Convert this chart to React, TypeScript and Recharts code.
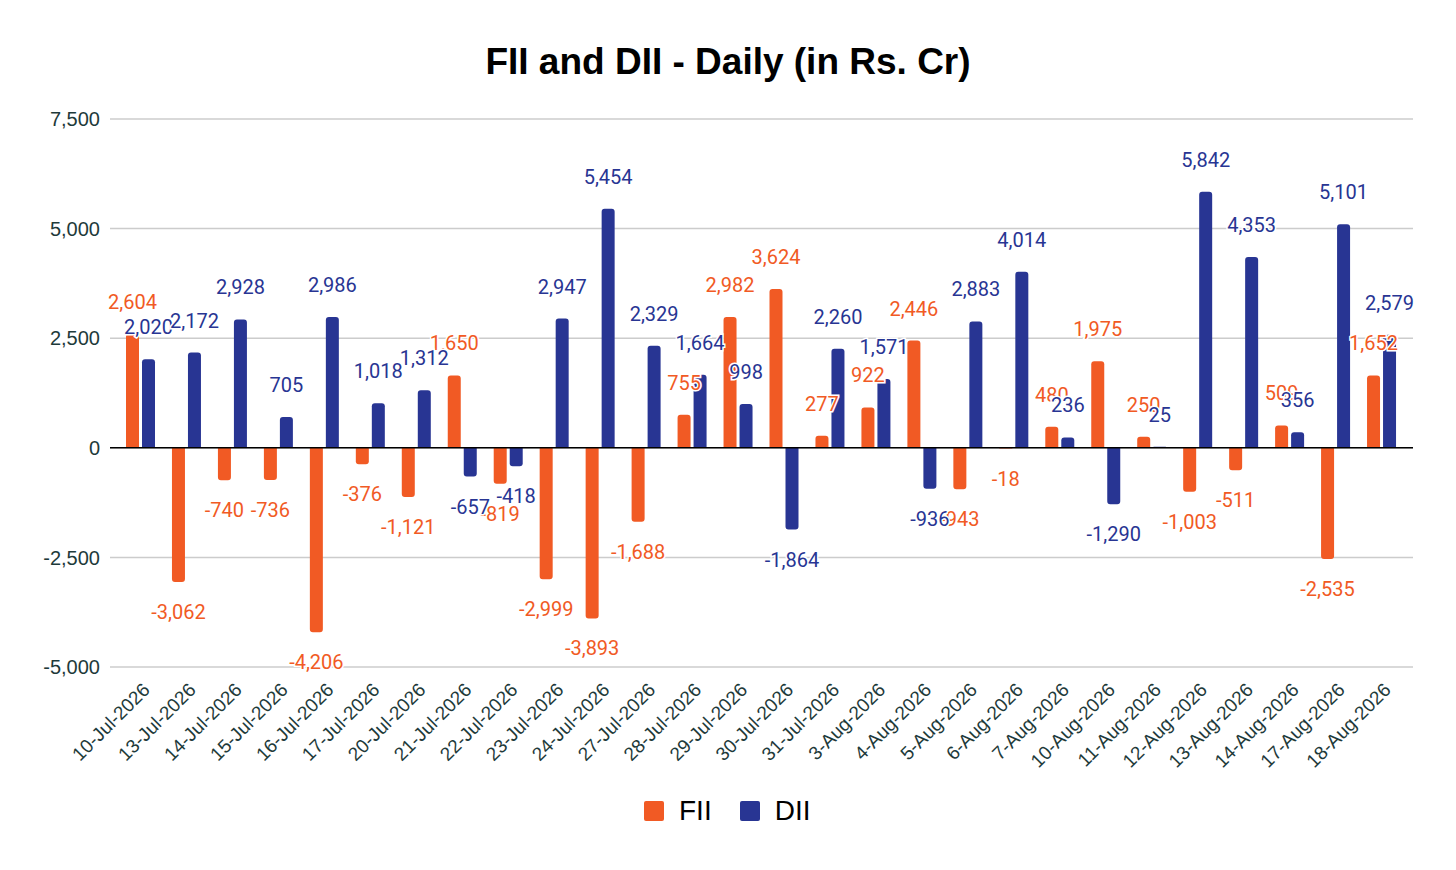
import React from "react";
import {
  BarChart,
  Bar,
  XAxis,
  YAxis,
  CartesianGrid,
  ReferenceLine,
  LabelList,
} from "recharts";

const categories = [
  "10-Jul-2026", "13-Jul-2026", "14-Jul-2026", "15-Jul-2026", "16-Jul-2026",
  "17-Jul-2026", "20-Jul-2026", "21-Jul-2026", "22-Jul-2026", "23-Jul-2026",
  "24-Jul-2026", "27-Jul-2026", "28-Jul-2026", "29-Jul-2026", "30-Jul-2026",
  "31-Jul-2026", "3-Aug-2026", "4-Aug-2026", "5-Aug-2026", "6-Aug-2026",
  "7-Aug-2026", "10-Aug-2026", "11-Aug-2026", "12-Aug-2026", "13-Aug-2026",
  "14-Aug-2026", "17-Aug-2026", "18-Aug-2026",
];

const fiiValues = [
  2604, -3062, -740, -736, -4206, -376, -1121, 1650, -819, -2999,
  -3893, -1688, 755, 2982, 3624, 277, 922, 2446, -943, -18,
  480, 1975, 250, -1003, -511, 509, -2535, 1652,
];

const diiValues = [
  2020, 2172, 2928, 705, 2986, 1018, 1312, -657, -418, 2947,
  5454, 2329, 1664, 998, -1864, 2260, 1571, -936, 2883, 4014,
  236, -1290, 25, 5842, 4353, 356, 5101, 2579,
];

const yTicks = [-5000, -2500, 0, 2500, 5000, 7500];

const FII_COLOR = "#F15A24";
const DII_COLOR = "#283593";

const data = categories.map((c, i) => ({
  date: c,
  FII: fiiValues[i],
  DII: diiValues[i],
}));

const fmt = (v: number) => v.toLocaleString("en-US");

const makeLabel = (color: string) => (props: any) => {
  const { x, y, width, height, value } = props;
  const top = Math.min(y, y + height);
  const bottom = Math.max(y, y + height);
  const cy = value >= 0 ? top - 32 : bottom + 30;
  return (
    <text
      x={x + width / 2}
      y={cy}
      textAnchor="middle"
      dominantBaseline="central"
      fill={color}
      stroke="#fff"
      strokeWidth={3}
      paintOrder="stroke"
      fontFamily="Roboto, 'Liberation Sans', sans-serif"
      fontSize={20}
    >
      {fmt(value)}
    </text>
  );
};

const XTick = (props: any) => {
  const { x, y, payload } = props;
  return (
    <text
      transform={`translate(${x + 10},${y + 24}) rotate(-45)`}
      textAnchor="end"
      fill="#1E3A3A"
      fontFamily="'Liberation Sans', Arial, sans-serif"
      fontSize={19}
    >
      {payload.value}
    </text>
  );
};

export default function App() {
  return (
    <div
      style={{
        position: "absolute",
        left: 0,
        top: 0,
        width: 1456,
        height: 870,
        background: "#fff",
        fontFamily: "'Liberation Sans', Arial, sans-serif",
      }}
    >
      <div
        style={{
          position: "absolute",
          left: 0,
          top: 40,
          width: 1456,
          textAlign: "center",
          fontSize: 37,
          fontWeight: "bold",
          color: "#000",
          lineHeight: "44px",
        }}
      >
        FII and DII - Daily (in Rs. Cr)
      </div>
      <div style={{ position: "absolute", left: 0, top: 0 }}>
        <BarChart
          width={1456}
          height={870}
          data={data}
          margin={{ top: 119, right: 43, bottom: 103, left: 10 }}
          barSize={13}
          barGap={3}
        >
          <CartesianGrid vertical={false} stroke="#cccccc" strokeWidth={1.5} />
          <XAxis
            dataKey="date"
            interval={0}
            axisLine={false}
            tickLine={false}
            tickSize={0}
            tickMargin={0}
            height={100}
            padding={{ left: 8, right: 8 }}
            tick={<XTick />}
          />
          <YAxis
            width={100}
            domain={[-5000, 7500]}
            ticks={yTicks}
            interval={0}
            axisLine={false}
            tickLine={false}
            tickSize={0}
            tickMargin={10}
            tickFormatter={fmt}
            tick={{
              fontSize: 20,
              fill: "#1E3A3A",
              fontFamily: "'Liberation Sans', Arial, sans-serif",
            }}
          />
          <ReferenceLine y={0} stroke="#000" strokeWidth={1.5} />
          <Bar dataKey="FII" fill={FII_COLOR} radius={[3, 3, 0, 0]} isAnimationActive={false}>
            <LabelList dataKey="FII" content={makeLabel(FII_COLOR)} />
          </Bar>
          <Bar dataKey="DII" fill={DII_COLOR} radius={[3, 3, 0, 0]} isAnimationActive={false}>
            <LabelList dataKey="DII" content={makeLabel(DII_COLOR)} />
          </Bar>
        </BarChart>
      </div>
      <div
        style={{
          position: "absolute",
          left: 644,
          top: 796,
          display: "flex",
          alignItems: "center",
          fontSize: 28,
          color: "#000",
          lineHeight: "30px",
        }}
      >
        <span
          style={{
            display: "inline-block",
            width: 20,
            height: 20,
            borderRadius: 2,
            background: FII_COLOR,
            marginRight: 15,
          }}
        />
        <span style={{ marginRight: 28 }}>FII</span>
        <span
          style={{
            display: "inline-block",
            width: 20,
            height: 20,
            borderRadius: 2,
            background: DII_COLOR,
            marginRight: 15,
          }}
        />
        <span>DII</span>
      </div>
    </div>
  );
}
